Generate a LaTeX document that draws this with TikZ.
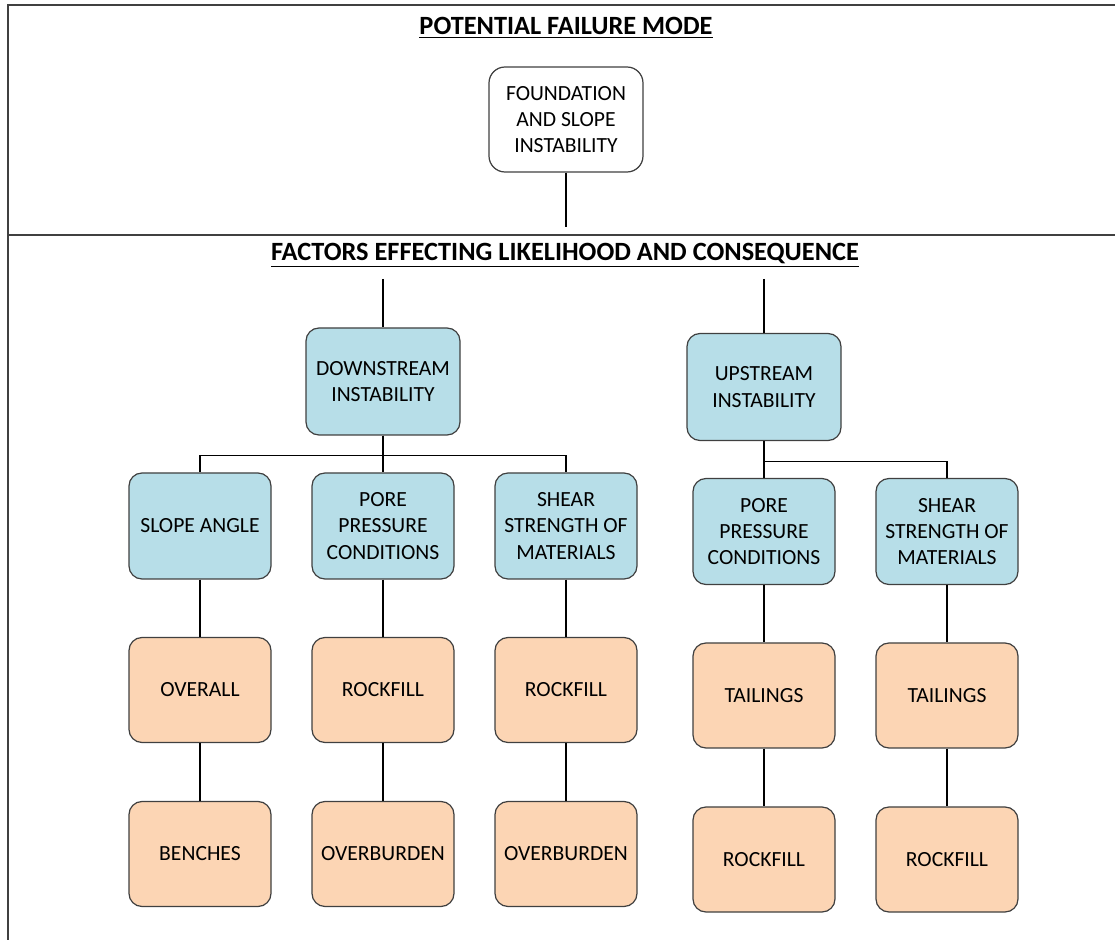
\documentclass[tikz,border=0pt]{standalone}
\usepackage{fontspec}
\setmainfont{Carlito}
\usetikzlibrary{trees, shapes, positioning}

\definecolor{factorblue}{HTML}{B7DEE8}
\definecolor{materialorange}{HTML}{FCD5B4}
\definecolor{boxline}{HTML}{404040}

\begin{document}
\begin{tikzpicture}[
  every node/.style={font=\fontsize{12.3}{15}\selectfont, align=center},
  box/.style={rectangle, rounded corners=0.26cm, draw=boxline, line width=0.7pt, inner sep=0pt},
  mode/.style={box, fill=white, rounded corners=0.32cm, minimum width=3.08cm, minimum height=2.1cm},
  instab/.style={box, fill=factorblue, minimum width=3.08cm, minimum height=2.14cm},
  factor/.style={box, fill=factorblue, minimum width=2.84cm, minimum height=2.12cm},
  material/.style={box, fill=materialorange, minimum width=2.84cm, minimum height=2.1cm},
  heading/.style={font=\fontsize{15}{18}\selectfont\bfseries},
  level 1/.style={level distance=2.89cm, sibling distance=3.66cm},
  level 2/.style={level distance=3.28cm},
  level 3/.style={level distance=3.28cm},
  edge from parent/.style={draw, line width=0.6pt},
  edge from parent path={(\tikzparentnode.south) -- ++(0,-0.4) -| (\tikzchildnode.north)}]

  % frame
  \useasboundingbox (0,0) rectangle (22.3,-18.8);
  \draw[boxline, line width=1.1pt] (22.3,-0.1) -- (0.16,-0.1) -- (0.16,-18.8);
  \draw[boxline, line width=1.1pt] (0.16,-4.7) -- (22.3,-4.7);

  % potential failure mode
  \node[heading] (pfm) at (11.32,-0.55) {\underline{POTENTIAL FAILURE MODE}};
  \node[mode] (foundation) at (11.32,-2.39) {FOUNDATION\\AND SLOPE\\INSTABILITY};
  \coordinate (fend) at (11.32,-4.54);
  \draw[line width=0.6pt] (foundation) -- (fend);

  % factors
  \node[heading] (factors) at (11.3,-5.1) {\underline{FACTORS EFFECTING LIKELIHOOD AND CONSEQUENCE}};

  \node[instab] (downstream) at (7.66,-7.63) {DOWNSTREAM\\INSTABILITY}
	child {node[factor] (dsslope) {SLOPE ANGLE}
		child {node[material] (dsoverall) {OVERALL}
			child {node[material] (dsbenches) {BENCHES}}
		}
	}
	child {node[factor] (dspore) {PORE\\PRESSURE\\CONDITIONS}
		child {node[material] (dsporerock) {ROCKFILL}
			child {node[material] (dsporeover) {OVERBURDEN}}
		}
	}
	child {node[factor] (dsshear) {SHEAR\\STRENGTH OF\\MATERIALS}
		child {node[material] (dsshearrock) {ROCKFILL}
			child {node[material] (dsshearover) {OVERBURDEN}}
		}
	};

  \node[instab] (upstream) at (15.28,-7.74) {UPSTREAM\\INSTABILITY}
	[level 1/.style={grow via three points={one child at (0cm,-2.89cm) and
		two children at (0cm,-2.89cm) and (3.66cm,-2.89cm)}},
	 level 2/.style={grow=down, level distance=3.28cm}]
	child {node[factor] (uspore) {PORE\\PRESSURE\\CONDITIONS}
		child {node[material] (usporetail) {TAILINGS}
			child {node[material] (usporerock) {ROCKFILL}}
		}
	}
	child {node[factor] (usshear) {SHEAR\\STRENGTH OF\\MATERIALS}
		child {node[material] (usseartail) {TAILINGS}
			child {node[material] (usshearrock) {ROCKFILL}}
		}
	};

  \coordinate (dstop) at (7.66,-5.58);
  \coordinate (ustop) at (15.28,-5.58);
  \draw[line width=0.6pt] (dstop) -- (downstream);
  \draw[line width=0.6pt] (ustop) -- (upstream);
\end{tikzpicture}
\end{document}
